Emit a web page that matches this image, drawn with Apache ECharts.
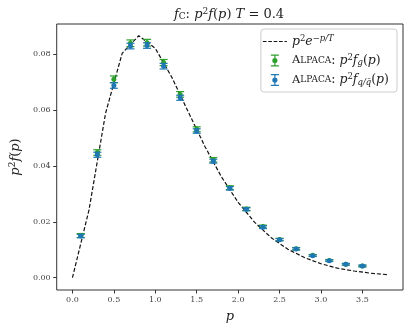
<!DOCTYPE html>
<html>
<head>
<meta charset="utf-8">
<script src="https://cdn.jsdelivr.net/npm/echarts@6/dist/echarts.min.js"></script>
<style>
  html, body { margin: 0; padding: 0; background: #fff; }
  #main { width: 411px; height: 328px; }
</style>
</head>
<body>
<div id="main"></div>
<script>
// p^2 e^{-p/T} curve, sampled as seen in the picture
var curveP = [0, 0.2, 0.4, 0.6, 0.8, 1.0, 1.2, 1.4, 1.6, 1.8, 2.0, 2.2, 2.4, 2.6, 2.8, 3.0, 3.2, 3.4, 3.6, 3.8];
var curveV = [0, 0.0243, 0.0589, 0.0803, 0.0866, 0.0821, 0.0717, 0.0592, 0.0469, 0.0360, 0.0270, 0.0198, 0.0143, 0.0102, 0.0072, 0.0050, 0.0034, 0.0024, 0.0016, 0.0011];

// ALPACA points
var pointsP = [0.1, 0.3, 0.5, 0.7, 0.9, 1.1, 1.3, 1.5, 1.7, 1.9, 2.1, 2.3, 2.5, 2.7, 2.9, 3.1, 3.3, 3.5];
var gluonV = [0.0151, 0.0448, 0.0710, 0.0839, 0.0841, 0.0770, 0.0656, 0.0531, 0.0422, 0.0322, 0.0246, 0.0183, 0.0137, 0.0104, 0.0080, 0.0062, 0.0048, 0.0042];
var gluonErr = [0.0007, 0.0010, 0.0012, 0.0012, 0.0012, 0.0011, 0.0010, 0.0009, 0.0008, 0.0007, 0.0006, 0.0005, 0.0004, 0.0004, 0.0003, 0.0003, 0.0003, 0.0003];
var quarkV = [0.0149, 0.0440, 0.0688, 0.0829, 0.0831, 0.0757, 0.0644, 0.0525, 0.0417, 0.0320, 0.0245, 0.0181, 0.0136, 0.0103, 0.0079, 0.0061, 0.0048, 0.0042];
var quarkErr = [0.0006, 0.0009, 0.0010, 0.0010, 0.0010, 0.0010, 0.0009, 0.0008, 0.0007, 0.0006, 0.0005, 0.0005, 0.0004, 0.0004, 0.0003, 0.0003, 0.0003, 0.0003];

var xTicks = [0, 0.5, 1.0, 1.5, 2.0, 2.5, 3.0, 3.5];
var yTicks = [0, 0.02, 0.04, 0.06, 0.08];

var serif = 'DejaVu Serif';
var green = '#2ca02c', blue = '#1f77b4';

function pairs(xs, ys) { return xs.map(function (x, i) { return [x, ys[i]]; }); }
function triples(xs, ys, es) { return xs.map(function (x, i) { return [x, ys[i], es[i]]; }); }

// error bar with caps
function errRender(color) {
  return function (params, api) {
    var x = api.value(0), y = api.value(1), e = api.value(2);
    var top = api.coord([x, y + e]), bot = api.coord([x, y - e]);
    var w = 4;
    var st = { stroke: color, lineWidth: 1.2 };
    return {
      type: 'group',
      children: [
        { type: 'line', shape: { x1: top[0], y1: top[1], x2: bot[0], y2: bot[1] }, style: st },
        { type: 'line', shape: { x1: top[0] - w, y1: top[1], x2: top[0] + w, y2: top[1] }, style: st },
        { type: 'line', shape: { x1: bot[0] - w, y1: bot[1], x2: bot[0] + w, y2: bot[1] }, style: st }
      ]
    };
  };
}

// legend icons, drawn inside a 24x12 box
var edge = 'M0 5.99L0.01 5.99L0.01 6L0 6Z M23.99 5.99L24 5.99L24 6L23.99 6Z';
var ebIcon = 'path://' + edge +
  'M8 0L16 0L16 1.2L8 1.2Z M8 10.8L16 10.8L16 12L8 12Z M11.4 0L12.6 0L12.6 12L11.4 12Z' +
  'M14.6 6A2.6 2.6 0 1 1 9.4 6A2.6 2.6 0 1 1 14.6 6Z';
var dashIcon = 'path://M0 0.01L0.01 0.01L0.01 0L0 0Z M0 11.99L0.01 11.99L0.01 12L0 12Z' +
  'M0 5.4L3.6 5.4L3.6 6.6L0 6.6Z M5.4 5.4L9 5.4L9 6.6L5.4 6.6Z M10.8 5.4L14.4 5.4L14.4 6.6L10.8 6.6Z' +
  'M16.2 5.4L19.8 5.4L19.8 6.6L16.2 6.6Z M21.6 5.4L24 5.4L24 6.6L21.6 6.6Z';

var ink = '#222';
var mathRich = {
  i: { fontFamily: serif, fontStyle: 'italic', fontSize: 12.5, color: ink },
  n: { fontFamily: serif, fontSize: 12.5, color: ink },
  sup: { fontFamily: serif, fontSize: 8.5, color: ink, padding: [0, 0, 6, 0] },
  isup: { fontFamily: serif, fontStyle: 'italic', fontSize: 8.5, color: ink, padding: [0, 0, 6, 0] },
  isub: { fontFamily: serif, fontStyle: 'italic', fontSize: 8.5, color: ink, padding: [5, 0, 0, 0] },
  sc: { fontFamily: serif, fontSize: 11.5, color: ink },
  scs: { fontFamily: serif, fontSize: 9, color: ink }
};

var legendText = {
  curve: '{i|p}{sup|2}{i|e}{isup|−p/T}',
  g: '{sc|A}{scs|LPACA}{n|: }{i|p}{sup|2}{i|f}{isub|g}{n|(}{i|p}{n|)}',
  q: '{sc|A}{scs|LPACA}{n|: }{i|p}{sup|2}{i|f}{isub|q/q̄}{n|(}{i|p}{n|)}'
};

var chart = echarts.init(document.getElementById('main'));
var option = {
  animation: false,
  title: {
    text: '{i|f}{sub|C}{n|: }{i|p}{sup|2}{i|f}{n|(}{i|p}{n|) }{i|T}{n| = 0.4}',
    left: 224, top: 2, textAlign: 'center',
    textStyle: { fontWeight: 'normal', rich: {
      i: { fontFamily: serif, fontStyle: 'italic', fontWeight: 'normal', fontSize: 13, color: ink },
      n: { fontFamily: serif, fontWeight: 'normal', fontSize: 13, color: ink },
      sup: { fontFamily: serif, fontWeight: 'normal', fontSize: 9, color: ink, padding: [0, 0, 6, 0] },
      sub: { fontFamily: serif, fontWeight: 'normal', fontSize: 9, color: ink, padding: [5, 0, 0, 0] }
    } }
  },
  grid: { left: 45, right: 8, top: 24, bottom: 38, show: true, borderColor: '#333', borderWidth: 1, backgroundColor: 'transparent' },
  legend: {
    right: 14, top: 29, orient: 'vertical', itemGap: 5,
    itemWidth: 24, itemHeight: 12,
    backgroundColor: '#fff', borderColor: '#ccc', borderWidth: 1, borderRadius: 3,
    padding: [5, 8, 5, 2],
    data: [
      { name: 'curve', icon: dashIcon, itemStyle: { color: '#111' } },
      { name: 'g', icon: ebIcon },
      { name: 'q', icon: ebIcon }
    ],
    formatter: function (name) { return legendText[name]; },
    textStyle: { rich: mathRich }
  },
  xAxis: {
    type: 'value', min: -0.19, max: 3.99,
    axisLine: { show: false, onZero: false },
    splitLine: { show: false },
    axisTick: { show: true, length: 3.5, lineStyle: { color: '#333' }, customValues: xTicks },
    axisLabel: {
      customValues: xTicks, fontFamily: serif, fontSize: 8, color: '#444', margin: 6,
      formatter: function (v) { return v.toFixed(1); }
    },
    name: '{i|p}', nameLocation: 'middle', nameGap: 20,
    nameTextStyle: { rich: { i: { fontFamily: serif, fontStyle: 'italic', fontSize: 13, color: ink } } }
  },
  yAxis: {
    type: 'value', min: -0.0044, max: 0.0908,
    axisLine: { show: false, onZero: false },
    splitLine: { show: false },
    axisTick: { show: true, length: 3.5, lineStyle: { color: '#333' }, customValues: yTicks },
    axisLabel: {
      customValues: yTicks, fontFamily: serif, fontSize: 8, color: '#444', margin: 6,
      formatter: function (v) { return v.toFixed(2); }
    },
    name: '{i|p}{sup|2}{i|f}{n|(}{i|p}{n|)}', nameLocation: 'middle', nameGap: 27, nameRotate: 90,
    nameTextStyle: { rich: {
      i: { fontFamily: serif, fontStyle: 'italic', fontSize: 13, color: ink },
      n: { fontFamily: serif, fontSize: 13, color: ink },
      sup: { fontFamily: serif, fontSize: 9, color: ink, padding: [0, 0, 6, 0] }
    } }
  },
  series: [
    {
      name: 'curve', type: 'line', data: pairs(curveP, curveV),
      symbol: 'none', smooth: false, z: 3,
      itemStyle: { color: '#111' },
      lineStyle: { color: '#111', width: 1.2, type: [4, 2] }
    },
    {
      name: 'gErr', type: 'custom', renderItem: errRender(green), z: 4,
      data: triples(pointsP, gluonV, gluonErr), silent: true
    },
    {
      name: 'g', type: 'scatter', data: pairs(pointsP, gluonV),
      symbol: 'circle', symbolSize: 5, z: 5, itemStyle: { color: green, opacity: 1 }
    },
    {
      name: 'qErr', type: 'custom', renderItem: errRender(blue), z: 6,
      data: triples(pointsP, quarkV, quarkErr), silent: true
    },
    {
      name: 'q', type: 'scatter', data: pairs(pointsP, quarkV),
      symbol: 'circle', symbolSize: 5, z: 7, itemStyle: { color: blue, opacity: 1 }
    }
  ]
};
chart.setOption(option);
</script>
</body>
</html>
